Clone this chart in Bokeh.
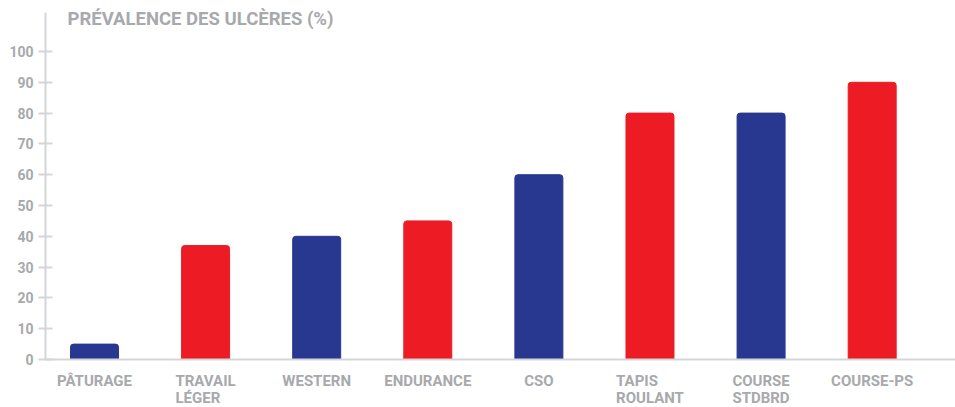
from bokeh.plotting import figure
from bokeh.models import FixedTicker, Label, LabelSet, ColumnDataSource, Range1d, Span
from bokeh.core.properties import value
from bokeh.embed import file_html
from bokeh.resources import INLINE

categories = ["PÂTURAGE", "TRAVAIL\nLÉGER", "WESTERN", "ENDURANCE", "CSO",
              "TAPIS\nROULANT", "COURSE\nSTDBRD", "COURSE-PS"]
values = [5, 37, 40, 45, 60, 80, 80, 90]
colors = ["#283891", "#ed1c24", "#283891", "#ed1c24", "#283891",
          "#ed1c24", "#283891", "#ed1c24"]
y_ticks = [0, 10, 20, 30, 40, 50, 60, 70, 80, 90, 100]
title_text = "PRÉVALENCE DES ULCÈRES (%)"

GRAY = "#a7a9ac"
AXIS = "#d4d5d7"
FONT = "Roboto"

xs = list(range(len(categories)))
src = ColumnDataSource(dict(x=xs, top=values, color=colors))
lab_src = ColumnDataSource(dict(x=xs, y=[-3.9] * len(xs), text=categories))

p = figure(width=955, height=407, output_backend="svg", toolbar_location=None,
           x_range=Range1d(-0.441, 7.75), y_range=Range1d(-15.58, 116.56),
           min_border_left=45, min_border_right=0, min_border_top=0,
           min_border_bottom=0)
p.outline_line_color = None
p.grid.visible = False
p.xaxis.visible = False
p.background_fill_color = "white"
p.border_fill_color = "white"

p.vbar(x="x", top="top", width=0.432, color="color", source=src,
       border_radius=[3, 3, 0, 0])

# baseline (x axis line)
p.add_layout(Span(location=0, dimension="width", line_color=AXIS,
                  line_width=2))

# y axis
ya = p.yaxis[0]
ya.ticker = FixedTicker(ticks=y_ticks)
ya.bounds = (0, 112.7)
ya.axis_line_color = AXIS
ya.axis_line_width = 2
ya.major_tick_line_color = AXIS
ya.major_tick_line_width = 2
ya.major_tick_in = 7
ya.major_tick_out = 7
ya.minor_tick_line_color = None
ya.major_label_text_color = GRAY
ya.major_label_text_font = FONT
ya.major_label_text_font_style = "bold"
ya.major_label_text_font_size = "14px"
ya.major_label_standoff = 5

p.add_layout(LabelSet(x="x", y="y", text="text", source=lab_src,
                      text_color=GRAY, text_font=value(FONT),
                      text_font_style="bold",
                      text_font_size="15px", text_align="center",
                      text_baseline="top", text_line_height=0.95))

p.add_layout(Label(x=-0.243, y=110.4, text=title_text, text_color=GRAY,
                   text_font=FONT, text_font_style="bold",
                   text_font_size="18.5px", text_baseline="middle",
                   text_align="left"))

open("out.html", "w").write(file_html(p, INLINE))
